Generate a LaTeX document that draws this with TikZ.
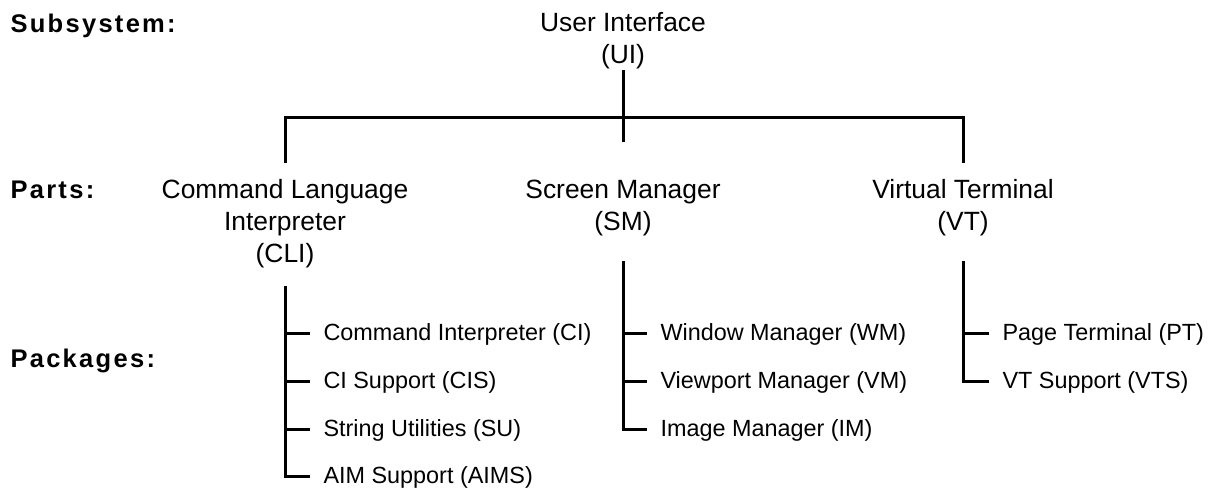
\documentclass[tikz,border=0pt]{standalone}
\usepackage{fontspec}
\setmainfont{Liberation Sans}
\newfontfamily\tagfont{Liberation Sans}[LetterSpace=9]
\begin{document}
\begin{tikzpicture}[x=1pt, y=-1pt, line width=3pt,
  tag/.style={anchor=base west, inner sep=0pt, font=\tagfont\bfseries\fontsize{25.5}{25.5}\selectfont},
  part/.style={anchor=base, align=center, inner sep=0pt, font=\fontsize{26.4}{32}\selectfont},
  pkg/.style={anchor=base west, inner sep=0pt, font=\fontsize{23.4}{23.4}\selectfont}]
  % page
  \fill[white] (0,0) rectangle (1209,491);
  \useasboundingbox (0,0) rectangle (1209,491);

  % level captions
  \node[tag] (lsub)  at (9,32)  {Subsystem:};
  \node[tag] (lpart) at (9,198) {Parts:};
  \node[tag] (lpkg)  at (9,367) {Packages:};

  % subsystem and its parts (anchored at the baseline of the last line)
  \node[part] (ui)  at (623,63)  {User Interface\\(UI)};
  \node[part] (cli) at (285,262) {Command Language\\Interpreter\\(CLI)};
  \node[part] (sm)  at (623,230) {Screen Manager\\(SM)};
  \node[part] (vt)  at (963,230) {Virtual Terminal\\(VT)};

  % packages
  \node[pkg] (ci)   at (322,340) {Command Interpreter (CI)};
  \node[pkg] (cis)  at (322,388) {CI Support (CIS)};
  \node[pkg] (su)   at (322,436) {String Utilities (SU)};
  \node[pkg] (aims) at (322,483) {AIM Support (AIMS)};

  \node[pkg] (wm) at (659,340) {Window Manager (WM)};
  \node[pkg] (vm) at (659,388) {Viewport Manager (VM)};
  \node[pkg] (im) at (659,436) {Image Manager (IM)};

  \node[pkg] (pt)  at (1001,340) {Page Terminal (PT)};
  \node[pkg] (vts) at (1001,388) {VT Support (VTS)};

  % subsystem -> parts
  \coordinate (bar)  at (623,117);
  \coordinate (stub) at (623,142);
  \draw (ui.south) -- (stub);
  \draw ([yshift=14pt]cli.north) |- (bar) -| ([yshift=14pt]vt.north);

  % part -> packages
  \draw ([yshift=-17pt]cli.south) |- ([xshift=-12pt]aims.west);
  \foreach \p in {ci,cis,su}
    \draw (cli.south |- \p.west) -- ([xshift=-12pt]\p.west);

  \draw ([yshift=-24pt]sm.south) |- ([xshift=-12pt]im.west);
  \foreach \p in {wm,vm}
    \draw (sm.south |- \p.west) -- ([xshift=-12pt]\p.west);

  \draw ([yshift=-24pt]vt.south) |- ([xshift=-12pt]vts.west);
  \draw (vt.south |- pt.west) -- ([xshift=-12pt]pt.west);
\end{tikzpicture}
\end{document}
